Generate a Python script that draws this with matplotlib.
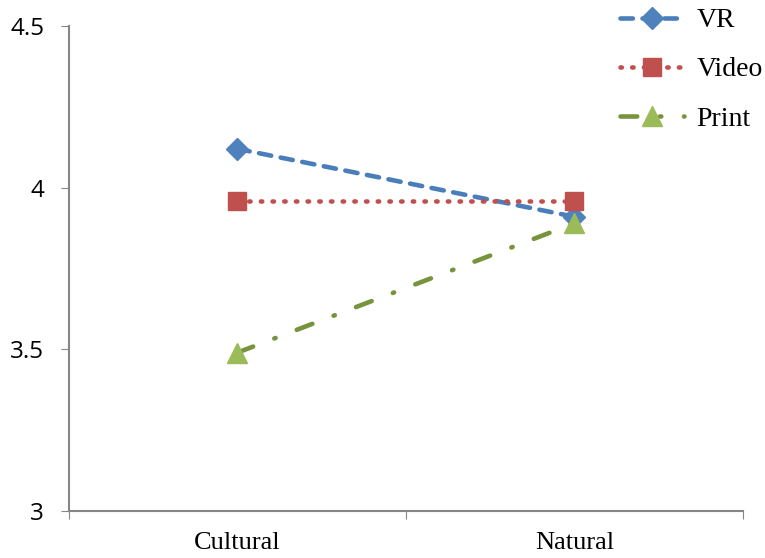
import matplotlib.pyplot as plt
import numpy as np

categories = ["Cultural", "Natural"]
vr = [4.12, 3.91]
video = [3.96, 3.96]
printed = [3.49, 3.89]

fig = plt.figure(figsize=(7.65, 5.58), dpi=100)
ax = fig.add_axes([0.0902, 0.0842, 0.8810, 0.8692])

x = np.arange(len(categories))
lw = 3.3

ax.plot(x, vr, color="#4A7EBB", lw=lw, dashes=(2.7, 2.1), dash_capstyle="round",
        marker="D", ms=11, mfc="#4F81BD", mec="#4F81BD", label="VR")
ax.plot(x, video, color="#C0504D", lw=lw, dashes=(0.3, 2.25), dash_capstyle="round",
        marker="s", ms=13, mfc="#C0504D", mec="#C0504D", label="Video")
ax.plot(x, printed, color="#77933C", lw=lw, dashes=(3.65, 4.95, 0.3, 4.95), dash_capstyle="round",
        marker="^", ms=14.5, mfc="#9BBB59", mec="#9BBB59", label="Print")

ax.set_xlim(-0.5, 1.5)
ax.set_ylim(3, 4.5)
ax.set_yticks([3, 3.5, 4, 4.5])
ax.set_yticklabels(["3", "3.5", "4", "4.5"], fontfamily="Open Sans", fontsize=17.5)
ax.set_xticks([-0.5, 0.5, 1.5])
ax.set_xticklabels([])
ax.set_xticks(x, minor=True)
ax.set_xticklabels(categories, minor=True, fontfamily="Liberation Serif", fontsize=19)
ax.tick_params(axis="x", which="minor", length=0, pad=15)
ax.tick_params(axis="x", which="major", length=6, color="#868686", direction="out")
ax.tick_params(axis="y", length=6, color="#868686", direction="out", pad=12)

for side in ["top", "right"]:
    ax.spines[side].set_visible(False)
for side in ["left", "bottom"]:
    ax.spines[side].set_color("#868686")
    ax.spines[side].set_linewidth(1.5)

fig.legend(loc="upper left", bbox_to_anchor=(620 / 765, 1 - 8 / 558), frameon=False,
           prop={"family": "Liberation Serif", "size": 20}, handlelength=2.3,
           handletextpad=0.45, labelspacing=0.85, borderpad=0, borderaxespad=0)

fig.savefig("out.png", dpi=100)
